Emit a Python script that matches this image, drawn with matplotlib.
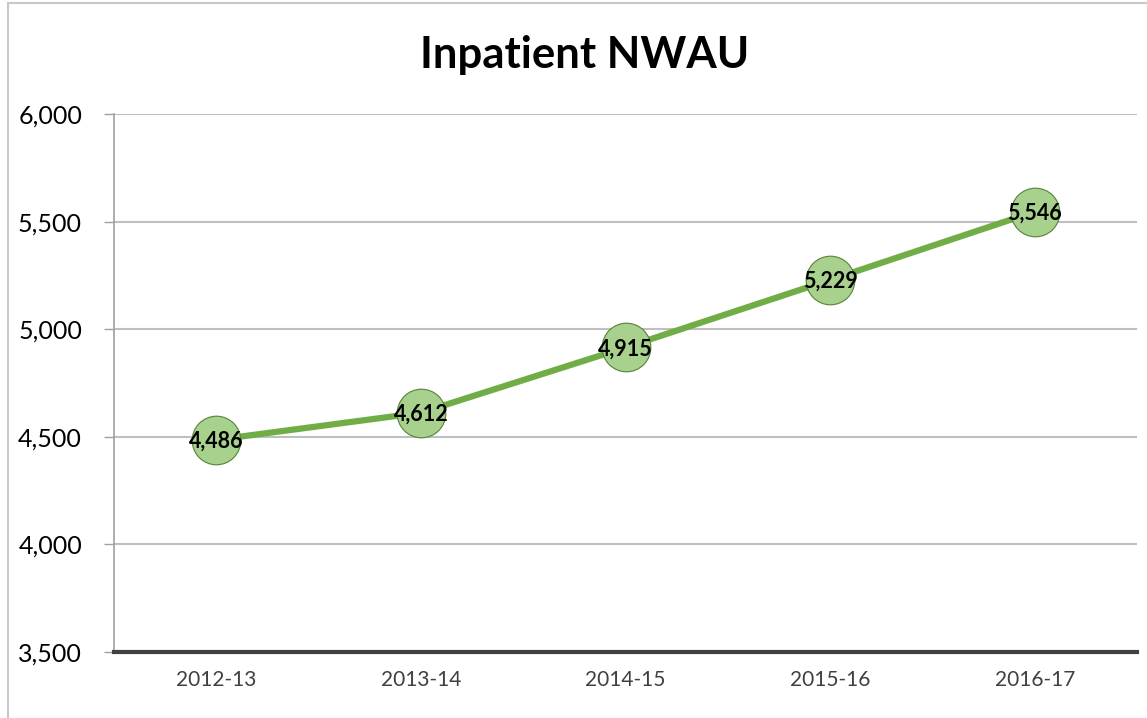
import matplotlib
matplotlib.use("Agg")
import matplotlib.pyplot as plt
from matplotlib.patches import Rectangle

categories = ["2012-13", "2013-14", "2014-15", "2015-16", "2016-17"]
values = [4486, 4612, 4915, 5229, 5546]
yticks = [3500, 4000, 4500, 5000, 5500, 6000]
title = "Inpatient NWAU"

plt.rcParams['font.family'] = ['Lato', 'DejaVu Sans']

W, H = 1147, 718
fig = plt.figure(figsize=(W / 100, H / 100), dpi=100)
ax = fig.add_axes([114 / W, 1 - 652 / H, (1137 - 114) / W, (652 - 114) / H])

# figure border
fig.patches.append(Rectangle((8 / W, -0.01), 1.2, (715 / H) + 0.01, transform=fig.transFigure,
                             fill=False, edgecolor='#C8C8C8', linewidth=1.5))

x = list(range(len(categories)))
ax.plot(x, values, color='#70AD47', linewidth=4.5, zorder=3,
        marker='o', markersize=35, markerfacecolor='#A9D18E',
        markeredgecolor='#548235', markeredgewidth=0.8)

for xi, v in zip(x, values):
    ax.text(xi, v - 8, f"{v:,}", ha='center', va='center', fontsize=15.5,
            fontweight='bold', color='black', zorder=5)

ax.set_xlim(-0.5, len(categories) - 0.5)
ax.set_ylim(3500, 6000)
ax.set_yticks(yticks)
ax.set_yticklabels([f"{t:,}" for t in yticks], fontsize=18, color='black')
ax.set_xticks(x)
ax.set_xticklabels(categories, fontsize=15, color='#404040')
ax.tick_params(axis='x', length=0, pad=13)
ax.tick_params(axis='y', length=7, width=1, color='#A0A0A0', pad=16)

for t in yticks[1:]:
    ax.axhline(t, color='#BFBFBF', linewidth=1.5, zorder=1)

for s in ['top', 'right']:
    ax.spines[s].set_visible(False)
ax.spines['left'].set_color('#A0A0A0')
ax.spines['left'].set_linewidth(1.2)
ax.spines['bottom'].set_color('#404040')
ax.spines['bottom'].set_linewidth(3)
ax.spines['bottom'].set_zorder(4)

fig.text(585 / W, 1 - 55 / H, title, ha='center', va='center', fontsize=31.5,
         fontweight='bold', color='black')

fig.savefig("out.png", dpi=100)
